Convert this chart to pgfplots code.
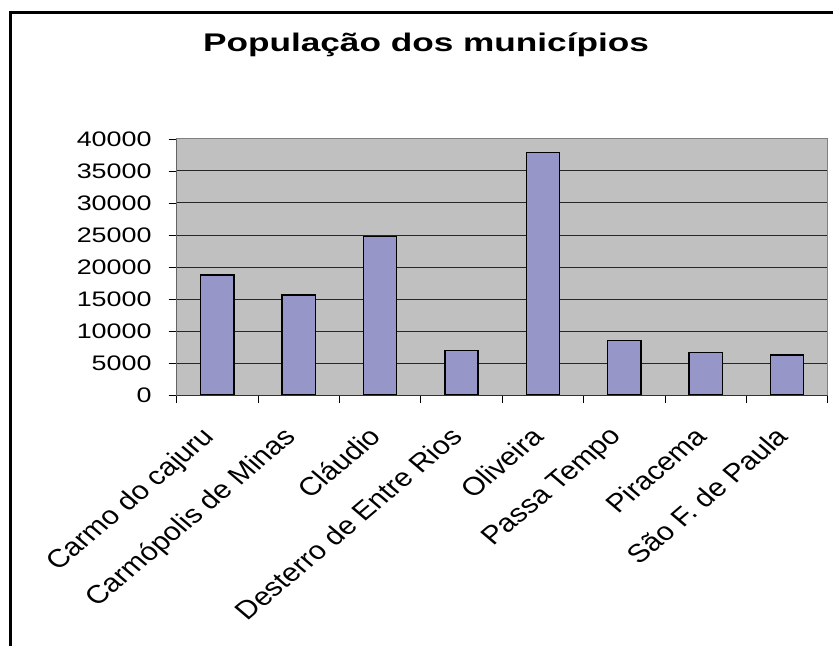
\documentclass[border=0pt]{standalone}
\usepackage{fontspec}
\setmainfont{Liberation Sans}
\usepackage{graphicx}
\usepackage{pgfplots}
\pgfplotsset{compat=1.18}
\definecolor{plotgray}{RGB}{192,192,192}
\definecolor{barcol}{RGB}{150,150,200}
\newcommand{\tl}[1]{\scalebox{1.28}[1]{#1}}
\newcommand{\cl}[1]{\scalebox{1.18}[1]{\rotatebox{45}{#1}}}
\begin{document}
\begin{tikzpicture}[x=1pt,y=1pt]
\useasboundingbox (0,0) rectangle (833,646);
\draw[line width=2.6pt, line join=miter] (10.5,0) -- (10.5,633.2) -- (840,633.2);
\node[anchor=base, font=\fontsize{25.5}{28}\selectfont\bfseries] at (426,594.3) {\scalebox{1.38}[1]{População dos municípios}};
\begin{axis}[
  at={(176.7pt,251pt)}, anchor=south west,
  width=651pt, height=256pt, scale only axis,
  xmin=-0.5, xmax=7.5, ymin=0, ymax=40000,
  scaled y ticks=false,
  axis background/.style={fill=plotgray},
  axis line style={draw=black!50, line width=1pt},
  ytick={0,5000,...,40000},
  yticklabels={\tl{0},\tl{5000},\tl{10000},\tl{15000},\tl{20000},\tl{25000},\tl{30000},\tl{35000},\tl{40000}},
  xtick={0,...,7},
  xticklabels={\cl{Carmo do cajuru},\cl{Carmópolis de Minas},\cl{Cláudio},\cl{Desterro de Entre Rios},\cl{Oliveira},\cl{Passa Tempo},\cl{Piracema},\cl{São F. de Paula}},
  minor xtick={-0.5,0.5,...,7.5},
  tick align=outside,
  xtick pos=bottom, ytick pos=left,
  major tick length=8pt, minor tick length=8pt,
  x tick style={draw=none},
  minor x tick style={draw=black, line width=0.8pt},
  y tick style={draw=black, line width=0.8pt},
  ymajorgrids,
  major grid style={draw=black!85, line width=1pt},
  yticklabel style={font=\fontsize{21}{23}\selectfont, anchor=east, inner sep=0pt, xshift=-17pt},
  xticklabel style={font=\fontsize{25.5}{27}\selectfont, anchor=north east, inner sep=0pt, xshift=3pt, yshift=-22pt},
  ybar, bar width=33.3pt,
]
\addplot[fill=barcol, draw=black, line width=1.4pt] coordinates {
  (0,18750) (1,15630) (2,24740) (3,6930) (4,37860) (5,8490) (6,6620) (7,6250)
};
\draw[black!80, line width=1pt] (rel axis cs:0,1) -- (rel axis cs:0,0) -- (rel axis cs:1,0);
\end{axis}
\end{tikzpicture}
\end{document}
